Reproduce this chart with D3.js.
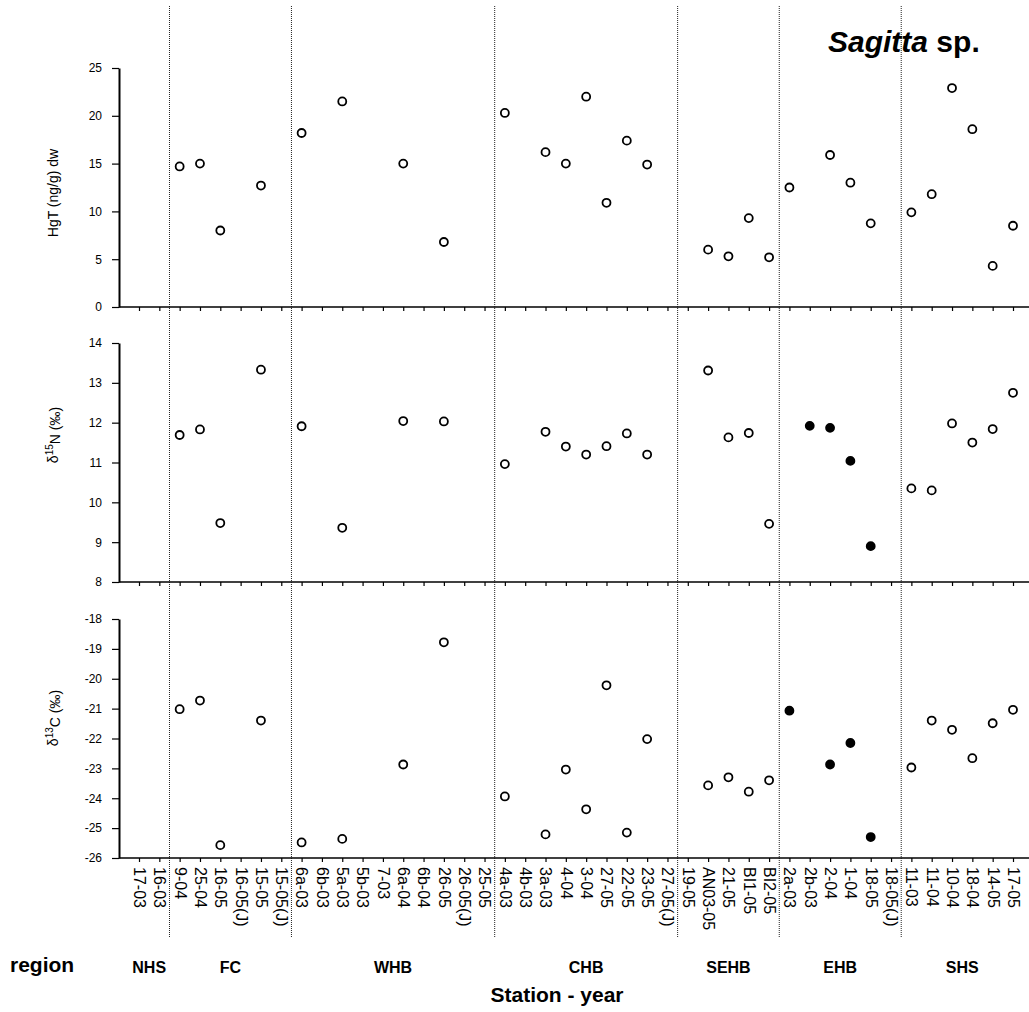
<!DOCTYPE html>
<html>
<head>
<meta charset="utf-8">
<script src="https://cdn.jsdelivr.net/npm/d3@7"></script>
<style>
  html, body { margin: 0; padding: 0; background: #fff; }
  svg { display: block; font-family: "Liberation Sans", Arial, Helvetica, sans-serif; }
</style>
</head>
<body>
<svg id="chart" width="1029" height="1012"></svg>
<script>
// Stations along the x axis, grouped by region (left to right)
const stations = [
  "17-03", "16-03",
  "9-04", "25-04", "16-05", "16-05(J)", "15-05", "15-05(J)",
  "6a-03", "6b-03", "5a-03", "5b-03", "7-03", "6a-04", "6b-04", "26-05", "26-05(J)", "25-05",
  "4a-03", "4b-03", "3a-03", "4-04", "3-04", "27-05", "22-05", "23-05", "27-05(J)",
  "19-05", "AN03-05", "21-05", "BI1-05", "BI2-05",
  "2a-03", "2b-03", "2-04", "1-04", "18-05", "18-05(J)",
  "11-03", "11-04", "10-04", "18-04", "14-05", "17-05"
];
const regionNames = ["NHS", "FC", "WHB", "CHB", "SEHB", "EHB", "SHS"];
const regionSizes = [2, 6, 10, 9, 5, 6, 6];

// Total mercury, ng/g dry weight
const hgStations = ["9-04", "25-04", "16-05", "15-05", "6a-03", "5a-03", "6a-04", "26-05",
  "4a-03", "3a-03", "4-04", "3-04", "27-05", "22-05", "23-05",
  "AN03-05", "21-05", "BI1-05", "BI2-05",
  "2a-03", "2-04", "1-04", "18-05",
  "11-03", "11-04", "10-04", "18-04", "14-05", "17-05"];
const hgValues = [14.7, 15.0, 8.0, 12.7, 18.2, 21.5, 15.0, 6.8,
  20.3, 16.2, 15.0, 22.0, 10.9, 17.4, 14.9,
  6.0, 5.3, 9.3, 5.2,
  12.5, 15.9, 13.0, 8.75,
  9.9, 11.8, 22.9, 18.6, 4.3, 8.5];
const hgFilled = [];

// delta 15N, per mil
const n15Stations = ["9-04", "25-04", "16-05", "15-05", "6a-03", "5a-03", "6a-04", "26-05",
  "4a-03", "3a-03", "4-04", "3-04", "27-05", "22-05", "23-05",
  "AN03-05", "21-05", "BI1-05", "BI2-05",
  "2b-03", "2-04", "1-04", "18-05",
  "11-03", "11-04", "10-04", "18-04", "14-05", "17-05"];
const n15Values = [11.69, 11.83, 9.48, 13.33, 11.91, 9.36, 12.04, 12.03,
  10.96, 11.77, 11.40, 11.20, 11.41, 11.73, 11.20,
  13.31, 11.63, 11.74, 9.46,
  11.92, 11.87, 11.04, 8.90,
  10.35, 10.30, 11.98, 11.50, 11.84, 12.75];
const n15Filled = ["2b-03", "2-04", "1-04", "18-05"];

// delta 13C, per mil
const c13Stations = ["9-04", "25-04", "16-05", "15-05", "6a-03", "5a-03", "6a-04", "26-05",
  "4a-03", "3a-03", "4-04", "3-04", "27-05", "22-05", "23-05",
  "AN03-05", "21-05", "BI1-05", "BI2-05",
  "2a-03", "2-04", "1-04", "18-05",
  "11-03", "11-04", "10-04", "18-04", "14-05", "17-05"];
const c13Values = [-21.02, -20.73, -25.57, -21.40, -25.48, -25.36, -22.87, -18.78,
  -23.94, -25.21, -23.04, -24.37, -20.22, -25.15, -22.02,
  -23.57, -23.30, -23.78, -23.40,
  -21.07, -22.87, -22.15, -25.30,
  -22.97, -21.40, -21.71, -22.66, -21.49, -21.04];
const c13Filled = ["2a-03", "2-04", "1-04", "18-05"];

const hgTicks = [0, 5, 10, 15, 20, 25];
const n15Ticks = [8, 9, 10, 11, 12, 13, 14];
const c13Ticks = [-26, -25, -24, -23, -22, -21, -20, -19, -18];

const svg = d3.select("#chart");
const W = 1029;
const axisX = 119;

const x = d3.scalePoint().domain(stations).range([139, 1013]).padding(0);

const panels = [
  { st: hgStations, val: hgValues, filled: hgFilled, ticks: hgTicks,
    domain: [0, 25], range: [307, 68], labels: false,
    titleY: 193, title: [["HgT (ng/g) dw", 0]] },
  { st: n15Stations, val: n15Values, filled: n15Filled, ticks: n15Ticks,
    domain: [8, 14], range: [582, 343], labels: false,
    titleY: 435, title: [["δ", 0], ["15", 1], ["N (‰)", 0]] },
  { st: c13Stations, val: c13Values, filled: c13Filled, ticks: c13Ticks,
    domain: [-26, -18], range: [858, 619], labels: true,
    titleY: 718, title: [["δ", 0], ["13", 1], ["C (‰)", 0]] }
];

// Region separators (dotted), between the last station of one region and the first of the next
let cum = 0;
const bounds = [];
regionSizes.forEach((n, i) => {
  const first = stations[cum], last = stations[cum + n - 1];
  bounds.push({ name: regionNames[i], mid: (x(first) + x(last)) / 2 });
  if (i < regionSizes.length - 1) {
    const nxt = stations[cum + n];
    bounds[i].sep = (x(last) + x(nxt)) / 2;
  }
  cum += n;
});

svg.append("g").selectAll("line").data(bounds.filter(b => b.sep !== undefined)).join("line")
  .attr("x1", d => d.sep).attr("x2", d => d.sep)
  .attr("y1", 6).attr("y2", 937)
  .attr("stroke", "#222").attr("stroke-width", 1)
  .attr("stroke-dasharray", "1,1");

panels.forEach(p => {
  const y = d3.scaleLinear().domain(p.domain).range(p.range);
  const g = svg.append("g");

  // x axis
  const xa = d3.axisBottom(x).tickSize(4).tickSizeOuter(0);
  if (p.labels) {
    xa.tickFormat(d => d).tickPadding(9);
  } else {
    xa.tickFormat("");
  }
  const xg = g.append("g").attr("transform", `translate(0,${p.range[0]})`).call(xa);
  xg.select(".domain").remove();
  xg.selectAll(".tick line").attr("stroke", "#000").attr("stroke-width", 1.2);
  if (p.labels) {
    xg.selectAll(".tick text")
      .attr("transform", "rotate(90)")
      .attr("x", 9).attr("y", 0).attr("dy", "0.35em")
      .attr("text-anchor", "start")
      .attr("font-size", 16)
      .attr("fill", "#000");
  }
  g.append("line")
    .attr("x1", axisX).attr("x2", W)
    .attr("y1", p.range[0]).attr("y2", p.range[0])
    .attr("stroke", "#000").attr("stroke-width", 1.6);

  // y axis
  const ya = d3.axisLeft(y).tickValues(p.ticks).tickSize(7).tickPadding(10)
    .tickSizeOuter(0).tickFormat(d => String(d));
  const yg = g.append("g").attr("transform", `translate(${axisX},0)`).call(ya);
  yg.select(".domain").attr("stroke", "#000").attr("stroke-width", 2);
  yg.selectAll(".tick line").attr("stroke", "#000").attr("stroke-width", 1.2);
  yg.selectAll(".tick text").attr("font-size", 12).attr("fill", "#000");

  // axis title
  const t = g.append("text")
    .attr("transform", `translate(53,${p.titleY}) rotate(-90)`)
    .attr("text-anchor", "middle").attr("dy", "0.35em")
    .attr("font-size", 14).attr("fill", "#000");
  p.title.forEach(([s, sup], i) => {
    const ts = t.append("tspan").text(s);
    if (sup) ts.attr("font-size", 10).attr("dy", "-0.45em");
    else if (i > 0 && p.title[i - 1][1]) ts.attr("dy", "0.45em");
  });

  // points
  const pts = p.st.map((s, i) => ({ s, v: p.val[i], f: p.filled.includes(s) }));
  g.append("g").selectAll("circle").data(pts).join("circle")
    .attr("cx", d => x(d.s)).attr("cy", d => y(d.v))
    .attr("r", 4)
    .attr("fill", d => d.f ? "#000" : "#fff")
    .attr("stroke", "#000").attr("stroke-width", 1.8);
});

// region names along the bottom
svg.append("text").attr("x", 10).attr("y", 972)
  .attr("font-size", 21).attr("font-weight", "bold").text("region");
svg.append("g").selectAll("text").data(bounds).join("text")
  .attr("x", d => d.mid).attr("y", 973)
  .attr("text-anchor", "middle").attr("font-size", 16).attr("font-weight", "bold")
  .text(d => d.name);
svg.append("text").attr("x", 557).attr("y", 1002)
  .attr("text-anchor", "middle").attr("font-size", 21).attr("font-weight", "bold")
  .text("Station - year");

// species title
const title = svg.append("text").attr("x", 828).attr("y", 52)
  .attr("font-size", 30).attr("font-weight", "bold");
title.append("tspan").attr("font-style", "italic").text("Sagitta");
title.append("tspan").text(" sp.");
</script>
</body>
</html>
